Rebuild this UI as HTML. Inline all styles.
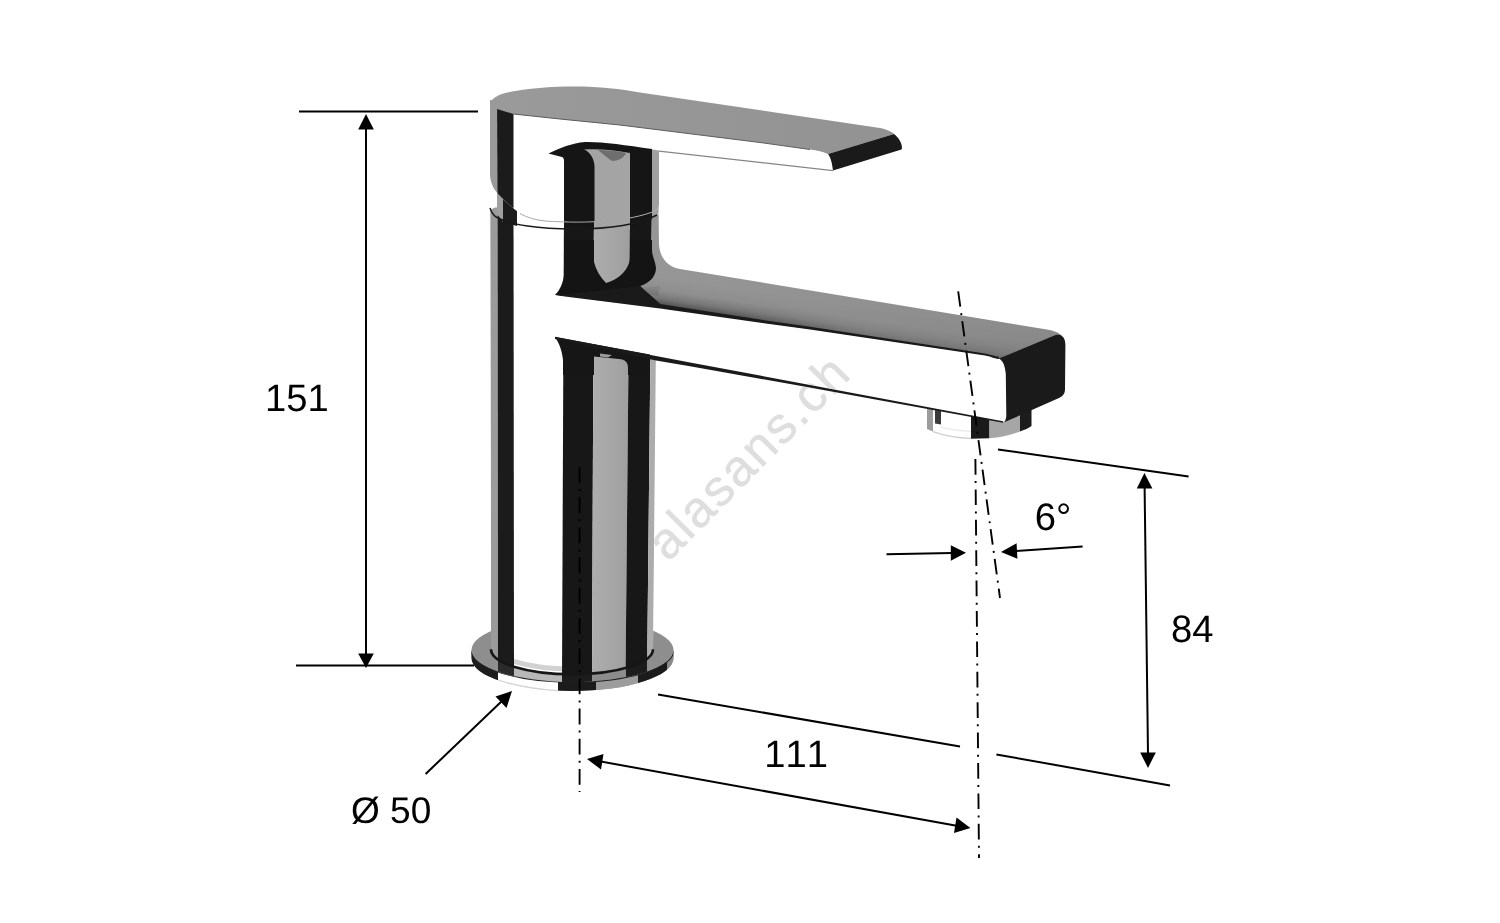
<!DOCTYPE html>
<html lang="en">
<head>
<meta charset="utf-8">
<title>Faucet dimension drawing</title>
<style>
  html, body { margin: 0; padding: 0; background: #ffffff; }
  body { width: 1500px; height: 923px; overflow: hidden; position: relative; }
  svg { position: absolute; left: 0; top: 0; display: block; }
  text { font-family: "Liberation Sans", sans-serif; fill: #000; font-kerning: none; font-variant-ligatures: none; text-rendering: geometricPrecision; }
</style>
</head>
<body>
<svg width="1500" height="923" viewBox="0 0 1500 923">
  <defs>
    <clipPath id="bodyClip">
      <path d="M490.3,213 Q490.5,208.5 495,207.5 L497,207.5 L497,195 L659,195 L656,340 L653,650 A81,25 0 0 1 491,650 Z"/>
    </clipPath>
    <clipPath id="flangeTopClip">
      <ellipse cx="572.5" cy="650" rx="101" ry="32"/>
    </clipPath>
    <clipPath id="rimClip">
      <path d="M471.5,650 L471.5,658 A101,33 0 0 0 673.5,658 L673.5,650 A101,32 0 0 1 471.5,650 Z"/>
    </clipPath>
    <clipPath id="cupClip">
      <path d="M490,100 L490,176 C491,184 494,190 499,195 C505,201 512,208 520,213.5 C527,217.5 535,220 545,221 C590,224 630,221 655,211 C658,209 659,207 659,204 L659,100 Z"/>
    </clipPath>
    <linearGradient id="spoutTop" x1="660" y1="0" x2="1060" y2="0" gradientUnits="userSpaceOnUse">
      <stop offset="0" stop-color="#969696"/>
      <stop offset="0.5" stop-color="#919191"/>
      <stop offset="1" stop-color="#8a8a8a"/>
    </linearGradient>
    <linearGradient id="edgeShade" x1="804.2" y1="298.5" x2="800" y2="328.2" gradientUnits="userSpaceOnUse">
      <stop offset="0" stop-color="#1a1a1a" stop-opacity="0"/>
      <stop offset="0.4" stop-color="#1a1a1a" stop-opacity="0.06"/>
      <stop offset="0.68" stop-color="#1a1a1a" stop-opacity="0.28"/>
      <stop offset="0.88" stop-color="#1a1a1a" stop-opacity="0.6"/>
      <stop offset="1" stop-color="#1a1a1a" stop-opacity="0.95"/>
    </linearGradient>
    <linearGradient id="edgeFade" x1="640" y1="0" x2="1000" y2="0" gradientUnits="userSpaceOnUse">
      <stop offset="0" stop-color="#fff" stop-opacity="1"/>
      <stop offset="0.3" stop-color="#fff" stop-opacity="0.75"/>
      <stop offset="0.6" stop-color="#fff" stop-opacity="0.38"/>
      <stop offset="1" stop-color="#fff" stop-opacity="0.25"/>
    </linearGradient>
    <mask id="edgeMask" maskUnits="userSpaceOnUse" x="600" y="230" width="480" height="160">
      <rect x="600" y="230" width="480" height="160" fill="url(#edgeFade)"/>
    </mask>
    <linearGradient id="grayStripe" x1="592" y1="0" x2="630" y2="0" gradientUnits="userSpaceOnUse">
      <stop offset="0" stop-color="#adadad"/>
      <stop offset="1" stop-color="#9f9f9f"/>
    </linearGradient>
    <linearGradient id="leverTop" x1="490" y1="0" x2="900" y2="0" gradientUnits="userSpaceOnUse">
      <stop offset="0" stop-color="#9a9a9a"/>
      <stop offset="1" stop-color="#929292"/>
    </linearGradient>
  </defs>

  <rect x="0" y="0" width="1500" height="923" fill="#ffffff"/>

  <!-- ================= FAUCET ================= -->
  <g id="faucet">
    <!-- base flange: rim -->
    <g clip-path="url(#rimClip)">
      <rect x="465" y="640" width="215" height="60" fill="#9a9a9a"/>
      <polygon points="471,640 498,640 498,700 471,700" fill="#1d1d1d"/>
      <polygon points="498,640 558,640 558,700 498,700" fill="#ffffff"/>
      <polygon points="558,640 596,640 596,700 558,700" fill="#1b1b1b"/>
      <polygon points="596,640 638,640 638,700 596,700" fill="#9c9c9c"/>
      <polygon points="638,640 667,640 667,700 638,700" fill="#1b1b1b"/>
      <polygon points="667,640 680,640 680,700 667,700" fill="#8a8a8a"/>
    </g>
    <!-- base flange: top face -->
    <g clip-path="url(#flangeTopClip)">
      <rect x="465" y="615" width="215" height="70" fill="#8e8e8e"/>
      <polygon points="498,615 514,615 514,690 498,690" fill="#2a2a2a"/>
      <polygon points="514,615 562,615 562,690 514,690" fill="#b8b8b8"/>
      <polygon points="562,615 592,615 592,690 562,690" fill="#1c1c1c"/>
      <polygon points="592,615 626,615 626,690 592,690" fill="#8c8c8c"/>
      <polygon points="626,615 647,615 647,690 626,690" fill="#1c1c1c"/>
    </g>
    <ellipse cx="572.5" cy="650" rx="101" ry="32" fill="none" stroke="#222" stroke-width="1.6" clip-path="url(#rimClip)"/>
    <path d="M498,680 C518,686 538,689.5 558,690.7" fill="none" stroke="#d4d4d4" stroke-width="1.2"/>

    <!-- body cylinder -->
    <g clip-path="url(#bodyClip)">
      <rect x="485" y="195" width="180" height="490" fill="#ffffff"/>
      <path d="M491,644 A81,25 0 0 0 653,644" fill="none" stroke="#9a9a9a" stroke-opacity="0.45" stroke-width="5"/>
      <polygon points="490,200 497.5,200 498,680 491,680" fill="#9b9b9b"/>
      <polygon points="497.5,200 513.5,200 514,680 498,680" fill="#1b1b1b"/>
      <polygon points="564,200 594,200 592,680 562,680" fill="#171717"/>
      <polygon points="594,200 630,200 625.5,680 592,680" fill="url(#grayStripe)"/>
      <polygon points="630,200 652,200 647,680 625.5,680" fill="#171717"/>
      <polygon points="652,200 659,200 653,680 647,680" fill="#acacac"/>
    </g>
    <path d="M491,649.3 A81,25 0 0 0 653,649.3" fill="none" stroke="#161616" stroke-width="2.6"/>

    <!-- ===== spout ===== -->
    <!-- spout top face -->
    <path d="M652,218 L658.5,215 L659,245 C660,258 668,267 680,269 L1047,329.5 C1054,330.8 1059,332.5 1062,336 L1000,359 L660,309 L640,298 L640,286 L652,262 Z" fill="url(#spoutTop)"/>
    <!-- dark flares of the body stripes meeting the spout -->
    <path d="M564,240 L564,275 C563,283 560,290 555,295 L660,309 L660,304 L640,286 C650,283 656,276 656,268 C655,260 652,256 652,250 L652,240 L630,240 L630,258 C629,270 618,280 606,283 C600,277 596,270 594,262 L594,240 Z" fill="#141414"/>
    <polygon points="641,288 660,286 658,296 650,294" fill="#8a8a8a"/>
    <!-- soft shading above the front-top edge -->
    <path d="M656,262 C662,266 670,268 680,269 L1046,329.5 C1053,330.8 1058,332.5 1061,336 L1000,359 L660,309 L640,298 L640,286 Z" fill="url(#edgeShade)" mask="url(#edgeMask)"/>
    <!-- dark band along front-top edge of spout -->
    <polygon points="640,286 660,304 700,310.3 760,319.6 810,326.8 900,340.4 985,353.6 999,357 999,359 985,356 810,330 660,309 555,295.4" fill="#1a1a1a"/>
    <!-- aerator -->
    <g id="aerator">
      <path d="M927,404 L927,429 C940,435 955,438 971,438.6 L971,412 Z" fill="#ffffff"/>
      <path d="M927,404.3 L933,405.4 L933,431.6 L927,429 Z" fill="#9c9c9c"/>
      <path d="M935,405.8 L941,407 L941,424.5 L935,423.5 Z" fill="#3a3a3a"/>
      <path d="M933,431.6 C945,435.8 958,438 971,438.4" fill="none" stroke="#cfcfcf" stroke-width="1.3"/>
      <path d="M941,427 C951,430 961,431 971,431.2" fill="none" stroke="#ececec" stroke-width="1.5"/>
      <path d="M971,412 L989.5,415.6 L989.5,438.2 L971,438.7 Z" fill="#1a1a1a"/>
      <path d="M989.5,415.6 L1003,418.5 L1020,411.5 L1020,431.5 C1010,435.5 1000,437.6 989.5,438.2 Z" fill="#a6a6a6"/>
      <path d="M1020,411.5 L1031.5,406.5 L1031.5,426 C1028,428.5 1024,430 1020,431.5 Z" fill="#1c1c1c"/>
    </g>
    <!-- spout front face (white) -->
    <path d="M555,295.2 L660,308.6 L810,329.6 L985,355.6 C997,358 1004.5,364 1005.5,374 L1006,415 C1006,419 1005,421.5 1003,422 L690,363 L555,337.5 Z" fill="#ffffff"/>
    <!-- dark underside below front face on the body -->
    <path d="M555,337 L650,354.5 L650,375 L628,375 L628,368 C628,362 625,359.5 619,359 L594,356.5 L594,375 L563,375 L563,360 C562,350 559,343 555,337 Z" fill="#161616"/>
    <polygon points="600,353.5 612,355 608,357.5 600,356.5" fill="#9a9a9a"/>
    <!-- bottom edge line of front face -->
    <polygon points="555,336.8 690,362.4 1003,421.2 1003,422.8 800,385.8 760,378.7 690,366.3 656,360.5 555,339" fill="#1a1a1a"/>
    <!-- spout end face (dark) -->
    <path d="M999,358.6 L1055,335.2 C1062,333.4 1065.4,338 1065.4,345 L1065,389.5 C1065,393.5 1063,396 1059,398 L1003,422.8 C1005.5,422 1006.3,419.5 1006.3,415.5 L1005.8,374 C1004.8,365 1003,361 999,358.6 Z" fill="#1a1a1a"/>

    <!-- ===== neck between handle and body ===== -->
    <path d="M497,190 L497,214 C505,224 540,229 573,229 C610,229 640,224 657,215 L659,200 L659,190 Z" fill="#ffffff"/>
    <polygon points="497,190 503,190 503,222 497,214" fill="#a0a0a0"/>
    <polygon points="503,190 517,190 517,226 503,222" fill="#1b1b1b"/>
    <polygon points="564,190 594,190 594,230 564,230" fill="#151515"/>
    <polygon points="594,190 630,190 630,230 594,230" fill="#a4a4a4"/>
    <polygon points="630,190 652,190 652,219 630,227" fill="#151515"/>
    <polygon points="652,190 659,190 658,214 652,219" fill="#a0a0a0"/>
    <!-- body top seam -->
    <path d="M490,208 C492,214 494,216 497,217.5 C510,225 540,229 573,229 C610,229 640,224 657,215" fill="none" stroke="#1a1a1a" stroke-width="1.5"/>

    <!-- ===== handle ===== -->
    <g clip-path="url(#cupClip)">
      <rect x="485" y="95" width="180" height="135" fill="#ffffff"/>
      <polygon points="490,95 497,95 497.5,230 490,230" fill="#9a9a9a"/>
      <polygon points="497,95 513.5,95 513.5,230 497.5,230" fill="#1b1b1b"/>
      <!-- reflected cartridge -->
      <path d="M548.5,153.5 C560,148 572,143 585,142 C600,141.5 625,145 652,149 L652,230 L564,230 L564,161 C564,158 563,157 560,156.5 Z" fill="#151515"/>
      <path d="M594.5,230 L594.5,166 C594,158 590,152 584,149.5 C598,148.5 615,150 630,153 L630,230 Z" fill="#a4a4a4"/>
      <path d="M598,150 C606,150 618,151 626,153 C624,158 618,161 612,161 C606,157 602,153 598,150 Z" fill="#6e6e6e"/>
      <path d="M652,149.5 L659,150.5 L659,230 L652,230 Z" fill="#a0a0a0"/>
    </g>
    <!-- handle bottom light line -->
    <path d="M520,213.5 C527,217.5 535,220 545,221 C590,224 630,221 655,211" fill="none" stroke="#a8a8a8" stroke-width="1"/>

    <!-- lever: top face -->
    <path d="M490,105 C490.3,99.5 497,95 506,92.8 C525,88.5 550,86.5 575,86.5 C600,86.5 620,89 640,92.5 L880,128 C887,129.5 892,131.5 894,134 L828,154 C822,151.5 816,150.2 810,149.5 L760,142.5 L620,125 L560,119 L513.5,114 L497,109 L490,105 Z" fill="url(#leverTop)"/>
    <!-- lever: front face white with edge lines -->
    <path d="M659,130 L760,142.5 L810,149.5 C820,151 828,154 831,161 L833,170.5 L659,151 Z" fill="#ffffff"/>
    <path d="M513.5,113.5 L560,118.5 L620,124.5 L760,142 L810,149 L810,150 L760,143 L620,125.5 L560,119.5 L513.5,114.5 Z" fill="#5a5a5a"/>
    <path d="M659,150.4 L833,170 L833,171.3 L659,151.7 Z" fill="#858585"/>
    <!-- lever: end face dark -->
    <path d="M828,154 L894,134 C899,138 902,143 902,148 L901.5,149.5 L833,170.5 C832,163 831,158 828,154 Z" fill="#1a1a1a"/>
  </g>

  <!-- watermark -->
  <text id="wm" x="0" y="0" transform="translate(668,562.7) rotate(-45.3)" font-size="51" letter-spacing="2" style="fill:#dedede;stroke:#dedede;stroke-width:0.5;mix-blend-mode:darken">alasans.ch</text>

  <!-- ================= DIMENSIONS ================= -->
  <g id="dims" stroke="#000" stroke-width="2" fill="none" stroke-linecap="butt">
    <!-- 151 -->
    <line x1="299" y1="111.4" x2="478" y2="111.4" stroke-width="2"/>
    <line x1="296" y1="665.6" x2="474" y2="665.6" stroke-width="2"/>
    <line x1="366" y1="128" x2="366" y2="655"/>
    <!-- dia 50 leader -->
    <line x1="425.6" y1="774" x2="503" y2="700"/>
    <!-- 111 -->
    <line x1="658" y1="694.4" x2="960" y2="746.6"/>
    <line x1="598" y1="761" x2="958" y2="826"/>
    <!-- 84 -->
    <line x1="998" y1="449.4" x2="1188.6" y2="476.6"/>
    <line x1="996.4" y1="754.4" x2="1170" y2="785.5"/>
    <line x1="1144.6" y1="487" x2="1148" y2="754"/>
    <!-- 6 deg -->
    <line x1="886.5" y1="554.3" x2="952" y2="553"/>
    <line x1="1015" y1="551" x2="1082.6" y2="546.4"/>
    <!-- centre lines -->
    <g stroke-dasharray="15.5 6.5 2 6" stroke-width="1.9">
      <line x1="579.6" y1="467" x2="579.6" y2="792" stroke-dasharray="15.8 6.2 2 6.2"/>
      <line x1="975.4" y1="459" x2="979" y2="858" stroke-dasharray="15.7 6.35 2 6.35"/>
      <line x1="958" y1="290" x2="1000" y2="598" stroke-dashoffset="-1.4"/>
    </g>
  </g>
  <g id="arrows" fill="#000" stroke="none">
    <polygon points="366,114 373.8,129.6 358.2,129.6"/>
    <polygon points="366,668 373.8,653.4 358.2,653.4"/>
    <polygon points="512,691 506.5,708 495.5,696.5"/>
    <polygon points="587,759 603.5,754 601,769.5"/>
    <polygon points="970.4,828 954,833 956.5,817.5"/>
    <polygon points="1144.4,473 1152.4,488.4 1136.8,488.6"/>
    <polygon points="1148,768 1140.2,752.6 1155.8,752.4"/>
    <polygon points="966,552.8 950.8,560.8 950.8,545.2"/>
    <polygon points="1001,552 1016.6,543.2 1017.4,558.8"/>
  </g>
  <g id="labels" font-size="38.2">
    <text x="265" y="411">151</text>
    <text x="351" y="823.1" font-size="37">Ø 50</text>
    <text x="764.3" y="767">111</text>
    <text x="1034.8" y="529.8">6°</text>
    <text x="1170.9" y="642.1">84</text>
  </g>
</svg>
</body>
</html>
